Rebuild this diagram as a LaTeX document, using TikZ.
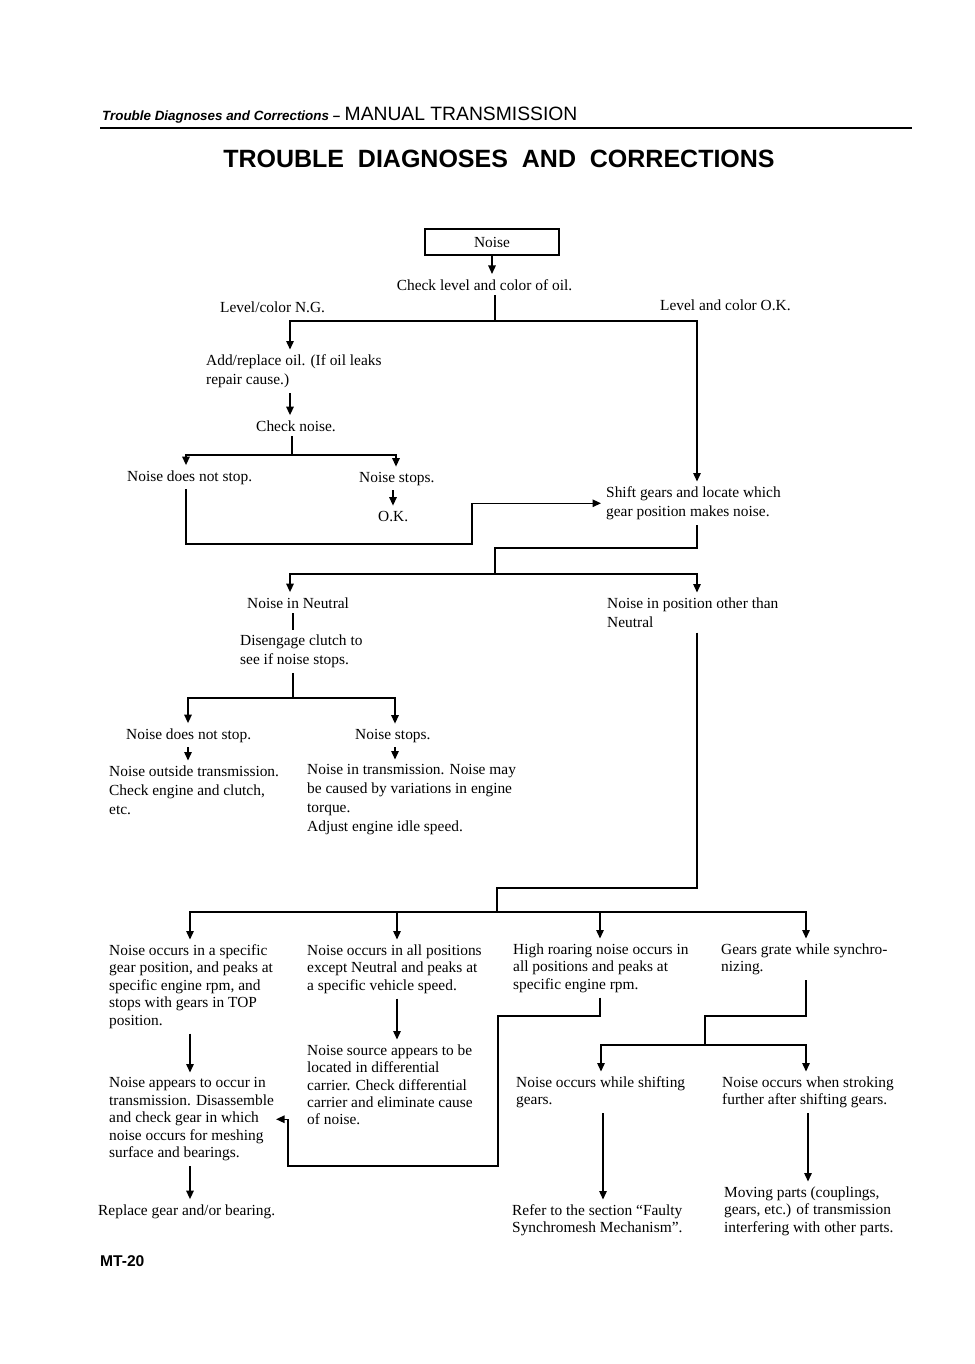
\documentclass[tikz,border=0pt]{standalone}
\usepackage{fontspec}
\setmainfont{Liberation Serif}
\setsansfont{Liberation Sans}
\usetikzlibrary{arrows.meta}

\tikzset{
  txt/.style={anchor=north west, xshift=-5pt, yshift=5pt, inner sep=5pt, align=left,
    font=\fontsize{15.4}{19}\selectfont},
  txts/.style={txt, font=\fontsize{15.4}{17.4}\selectfont},
  lbl/.style={anchor=base west, xshift=-5pt, inner sep=5pt, font=\fontsize{15.4}{19}\selectfont},
  ln/.style={line width=1.4pt},
  arr/.style={ln, -{Triangle[length=8.5pt,width=7.5pt]}},
}

\begin{document}
\begin{tikzpicture}[x=1pt, y=-1pt, line join=miter]
\fill[white] (0,0) rectangle (974,1364);
\useasboundingbox (0,0) rectangle (974,1364);

% page header
\node[anchor=base west, inner sep=0pt] (head) at (102,121)
  {\sffamily{\fontsize{13.4}{15}\selectfont\bfseries\itshape Trouble Diagnoses and Corrections --}\,
   {\fontsize{19.3}{22}\selectfont MANUAL TRANSMISSION}};
\draw[line width=2pt] (100,128) -- (912,128);
\node[anchor=base, inner sep=0pt, font=\sffamily\bfseries\fontsize{25}{30}\selectfont] (title) at (499,168)
  {TROUBLE\ \ DIAGNOSES\ \ AND\ \ CORRECTIONS};
\node[anchor=base west, inner sep=0pt, font=\sffamily\bfseries\fontsize{15.6}{18}\selectfont] (page) at (100,1266) {MT-20};

% top part
\node[draw, line width=2.6pt, minimum width=134pt, minimum height=26pt, inner sep=0pt,
  font=\fontsize{15.4}{19}\selectfont] (noise) at (492,242) {Noise};
\node[anchor=base, inner sep=5pt, font=\fontsize{15.4}{19}\selectfont] (chk) at (484.5,290) {Check level and color of oil.};
\node[lbl] (ng) at (220,312) {Level/color N.G.};
\node[lbl] (okc) at (660,310) {Level and color O.K.};
\node[txt] (add) at (206,354.5) {Add/replace oil. (If oil leaks\\repair cause.)};
\node[anchor=base, inner sep=5pt, font=\fontsize{15.4}{19}\selectfont] (chkn) at (296,431) {Check noise.};
\node[lbl] (nds1) at (127,481) {Noise does not stop.};
\node[lbl] (ns1) at (359,482) {Noise stops.};
\node[lbl] (ok) at (378,521) {O.K.};
\node[txt] (shift) at (606,486.5) {Shift gears and locate which\\gear position makes noise.};

% neutral or not
\node[lbl] (neut) at (247,608) {Noise in Neutral};
\node[txt] (other) at (607,597.5) {Noise in position other than\\Neutral};
\node[txt] (clutch) at (240,634.5) {Disengage clutch to\\see if noise stops.};
\node[lbl] (nds2) at (126,739) {Noise does not stop.};
\node[lbl] (ns2) at (355,739) {Noise stops.};
\node[txt] (outside) at (109,765.5) {Noise outside transmission.\\Check engine and clutch,\\etc.};
\node[txt] (inside) at (307,764.5) {Noise in transmission. Noise may\\be caused by variations in engine\\torque.\\Adjust engine idle speed.};

% other positions
\node[txts] (spec) at (109,944.5) {Noise occurs in a specific\\gear position, and peaks at\\specific engine rpm, and\\stops with gears in TOP\\position.};
\node[txts] (allpos) at (307,944.5) {Noise occurs in all positions\\except Neutral and peaks at\\a specific vehicle speed.};
\node[txts] (roar) at (513,943.5) {High roaring noise occurs in\\all positions and peaks at\\specific engine rpm.};
\node[txts] (grate) at (721,943.5) {Gears grate while synchro-\\nizing.};
\node[txts] (appear) at (109,1077.5) {Noise appears to occur in\\transmission. Disassemble\\and check gear in which\\noise occurs for meshing\\surface and bearings.};
\node[txts] (diff) at (307,1044.5) {Noise source appears to be\\located in differential\\carrier. Check differential\\carrier and eliminate cause\\of noise.};
\node[txts] (shiftg) at (516,1076.5) {Noise occurs while shifting\\gears.};
\node[txts] (stroke) at (722,1076.5) {Noise occurs when stroking\\further after shifting gears.};
\node[lbl] (repl) at (98,1215) {Replace gear and/or bearing.};
\node[txts] (refer) at (512,1204.5) {Refer to the section ``Faulty\\Synchromesh Mechanism''.};
\node[txts] (moving) at (724,1186.5) {Moving parts (couplings,\\gears, etc.) of transmission\\interfering with other parts.};

% junctions
\coordinate (b1) at (495,321);
\coordinate (b2) at (292,455);
\coordinate (k1) at (472,544);
\coordinate (k2) at (495,548);
\coordinate (b3) at (495,574);
\coordinate (b4) at (293,698);
\coordinate (k3) at (497,888);
\coordinate (b5) at (497,912);
\coordinate (k4) at (498,1016);
\coordinate (k5) at (288,1166);
\coordinate (k6) at (705,1016);
\coordinate (b6) at (705,1045);

% connectors
\draw[arr] (noise.south) -- (noise.south |- chk.north);
\draw[ln] (chk.south -| b1) -- (b1);
\draw[arr] (b1) -| (add.north -| 290,0);
\draw[arr] (b1) -| (shift.north -| 697,0);
\draw[arr] (add.south -| 290,0) -- (chkn.north -| 290,0);
\draw[ln] (chkn.south -| b2) -- (b2);
\draw[arr] (b2) -| (nds1.north -| 186,0);
\draw[arr] (b2) -| (ns1.north -| 396,0);
\draw[arr] (ns1.south -| 393,0) -- (ok.north -| 393,0);
\draw[arr] (nds1.south -| 186,0) |- (k1) |- (shift.west);
\draw[ln] (shift.south -| 697,0) |- (k2) -- (b3);
\draw[arr] (b3) -| (neut.north -| 290,0);
\draw[arr] (b3) -| (other.north -| 697,0);
\draw[ln] (neut.south -| 293,0) -- (clutch.north -| 293,0);
\draw[ln] (clutch.south -| b4) -- (b4);
\draw[arr] (b4) -| (nds2.north -| 188,0);
\draw[arr] (b4) -| (ns2.north -| 395,0);
\draw[arr] (nds2.south -| 188,0) -- (outside.north -| 188,0);
\draw[arr] (ns2.south -| 395,0) -- (inside.north -| 395,0);
\draw[ln] (other.south -| 697,0) |- (k3) -- (b5);
\foreach \n/\x in {spec/190, allpos/397, roar/600, grate/806}
  \draw[arr] (b5) -| (\n.north -| \x,0);
\draw[arr] (spec.south -| 190,0) -- (appear.north -| 190,0);
\draw[arr] (allpos.south -| 397,0) -- (diff.north -| 397,0);
\draw[arr] (roar.south -| 600,0) |- (k4) |- (k5) |- ([xshift=-3pt]appear.east);
\draw[ln] (grate.south -| 806,0) |- (k6) -- (b6);
\draw[arr] (b6) -| (shiftg.north -| 601,0);
\draw[arr] (b6) -| (stroke.north -| 806,0);
\draw[arr] (appear.south -| 190,0) -- (repl.north -| 190,0);
\draw[arr] (shiftg.south -| 603,0) -- (refer.north -| 603,0);
\draw[arr] (stroke.south -| 808,0) -- (moving.north -| 808,0);
\end{tikzpicture}
\end{document}
